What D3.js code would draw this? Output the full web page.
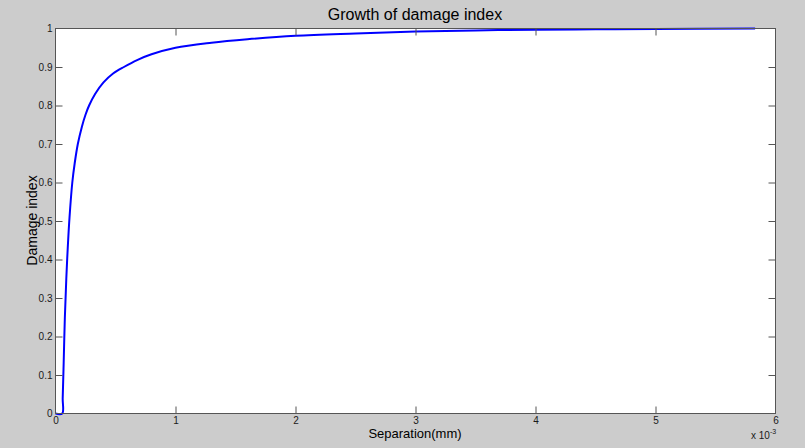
<!DOCTYPE html>
<html>
<head>
<meta charset="utf-8">
<script src="https://cdn.jsdelivr.net/npm/d3@7"></script>
<style>
  html, body { margin: 0; padding: 0; background: #cccccc; }
  svg { display: block; font-family: "Liberation Sans", Arial, sans-serif; }
</style>
</head>
<body>
<svg id="chart" width="805" height="448"></svg>
<script>
// Separation (mm) and the damage index reached at that separation
const separation = [0, 0.000056, 0.00006, 0.000068, 0.000078, 0.00009, 0.000102, 0.000117,
  0.00014, 0.00016, 0.000186, 0.00022, 0.00025, 0.00028, 0.00033, 0.0004, 0.00048, 0.00057,
  0.00068, 0.0008, 0.001, 0.0013, 0.0016, 0.002, 0.0025, 0.003, 0.0035, 0.004, 0.0045,
  0.005, 0.00583];
const damage = [0, 0, 0.04, 0.13, 0.25, 0.35, 0.43, 0.51,
  0.6, 0.65, 0.7, 0.745, 0.776, 0.8, 0.83, 0.86, 0.883, 0.9,
  0.918, 0.933, 0.95, 0.963, 0.972, 0.981, 0.987, 0.992, 0.995, 0.997, 0.998,
  0.999, 1.0];

const xTicks = [0, 0.001, 0.002, 0.003, 0.004, 0.005, 0.006];
const xTickLabels = ["0", "1", "2", "3", "4", "5", "6"];
const yTicks = [0, 0.1, 0.2, 0.3, 0.4, 0.5, 0.6, 0.7, 0.8, 0.9, 1];
const yTickLabels = ["0", "0.1", "0.2", "0.3", "0.4", "0.5", "0.6", "0.7", "0.8", "0.9", "1"];

const titleText = "Growth of damage index";
const xLabelText = "Separation(mm)";
const yLabelText = "Damage index";

const svg = d3.select("#chart");
const marginLeft = 55, marginTop = 28, plotW = 720, plotH = 385;
const axisColor = "#555555";

const x = d3.scaleLinear().domain([0, 0.006]).range([0, plotW]);
const y = d3.scaleLinear().domain([0, 1]).range([plotH, 0]);

const g = svg.append("g").attr("transform", `translate(${marginLeft + 0.5},${marginTop + 0.5})`);

// plot background
g.append("rect").attr("x", 0).attr("y", 0).attr("width", plotW).attr("height", plotH)
  .attr("fill", "#ffffff");

// damage curve
const line = d3.line().x((d, i) => x(separation[i])).y(d => y(d))
  .curve(d3.curveCatmullRom.alpha(0.5));
g.append("path").datum(damage).attr("d", line)
  .attr("fill", "none").attr("stroke", "#0000ff").attr("stroke-width", 2)
  .attr("stroke-linejoin", "round");

function styleAxis(sel, showLabels) {
  sel.select(".domain").remove();
  sel.selectAll(".tick line").attr("stroke", axisColor);
  sel.selectAll(".tick text").attr("fill", "#1a1a1a").style("font-size", "10px");
  if (!showLabels) sel.selectAll(".tick text").remove();
}

// bottom axis with labels, ticks pointing inward
const xAxis = g.append("g").attr("transform", `translate(0,${plotH})`)
  .call(d3.axisBottom(x).tickValues(xTicks).tickFormat((d, i) => xTickLabels[i])
    .tickSizeInner(-7).tickSizeOuter(0).tickPadding(3));
styleAxis(xAxis, true);
xAxis.selectAll(".tick").filter(d => d === 0 || d === 0.006).select("line").remove();

// top axis, ticks only
const xAxisTop = g.append("g")
  .call(d3.axisTop(x).tickValues(xTicks).tickSizeInner(-7).tickSizeOuter(0));
styleAxis(xAxisTop, false);
xAxisTop.selectAll(".tick").filter(d => d === 0 || d === 0.006).select("line").remove();

// left axis with labels
const yAxis = g.append("g")
  .call(d3.axisLeft(y).tickValues(yTicks).tickFormat((d, i) => yTickLabels[i])
    .tickSizeInner(-7).tickSizeOuter(0).tickPadding(3));
styleAxis(yAxis, true);
yAxis.selectAll(".tick").filter(d => d === 0 || d === 1).select("line").remove();
yAxis.selectAll(".tick text").attr("x", -3);

// right axis, ticks only
const yAxisRight = g.append("g").attr("transform", `translate(${plotW},0)`)
  .call(d3.axisRight(y).tickValues(yTicks).tickSizeInner(-7).tickSizeOuter(0));
styleAxis(yAxisRight, false);
yAxisRight.selectAll(".tick").filter(d => d === 0 || d === 1).select("line").remove();

// axes box
g.append("rect").attr("x", 0).attr("y", 0).attr("width", plotW).attr("height", plotH)
  .attr("fill", "none").attr("stroke", axisColor).attr("stroke-width", 1);

// exponent note for the x axis
const expo = svg.append("text").attr("x", 751).attr("y", 439)
  .attr("fill", "#1a1a1a").style("font-size", "10px");
expo.append("tspan").text("x 10");
expo.append("tspan").attr("dy", -5).style("font-size", "7px").text("-3");

// title and axis labels
svg.append("text").attr("x", marginLeft + plotW / 2).attr("y", 20).attr("text-anchor", "middle")
  .attr("fill", "#000").style("font-size", "16px").text(titleText);
svg.append("text").attr("x", marginLeft + plotW / 2).attr("y", 438).attr("text-anchor", "middle")
  .attr("fill", "#000").style("font-size", "13px").text(xLabelText);
svg.append("text").attr("transform", `translate(37,${marginTop + plotH / 2}) rotate(-90)`)
  .attr("text-anchor", "middle").attr("fill", "#000").style("font-size", "14px").text(yLabelText);
</script>
</body>
</html>
